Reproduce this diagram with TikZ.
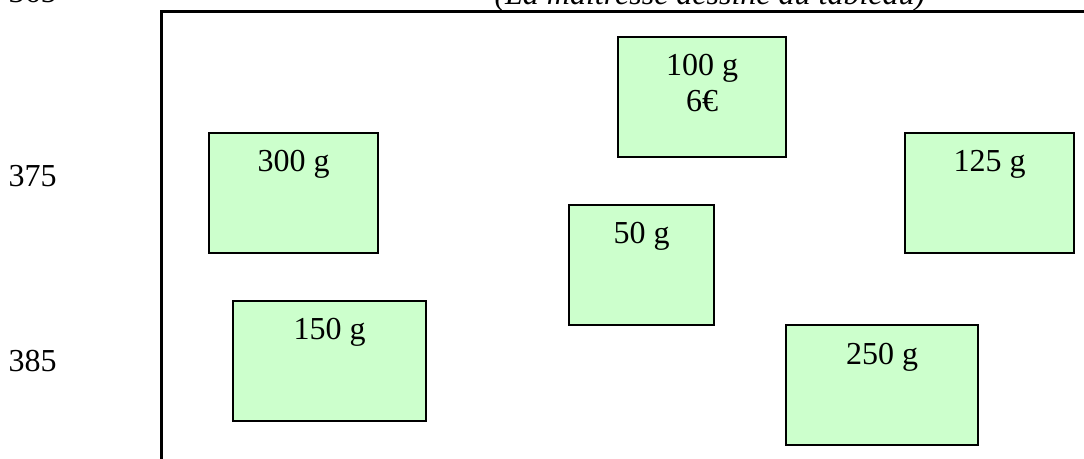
\documentclass[tikz,border=0pt]{standalone}
\usepackage{fontspec}
\setmainfont{Liberation Serif}
\definecolor{boxgreen}{HTML}{CCFFCC}
\begin{document}
\begin{tikzpicture}[x=0.375pt,y=-0.375pt,
  font=\fontsize{12}{13.5}\selectfont,
  wbox/.style={draw=black,line width=0.75pt,fill=boxgreen,rectangle,inner sep=0pt},
  wtext/.style={anchor=base,inner sep=0pt},
  margin/.style={anchor=base west,inner sep=0pt},
  board/.style={draw=black,line width=0.8pt}]
\useasboundingbox (0,0) rectangle (1084,459);
\clip (0,0) rectangle (1084,459);
\fill[white] (0,0) rectangle (1084,459);
% board frame
\coordinate (fbl) at (161.5,470);
\coordinate (ftl) at (161.5,11.5);
\coordinate (ftr) at (1100,11.5);
\draw[board] (fbl) -- (ftl) -- (ftr);
% margin line numbers and caption
\node[margin] (n365) at (8,3) {365};
\node[margin] (n375) at (8,187) {375};
\node[margin] (n385) at (8,371) {385};
\node[margin,font=\fontsize{12}{13.5}\selectfont\itshape] (cap) at (494,5) {(La maîtresse dessine au tableau)};
% boxes
\node[wbox,minimum width=168\pgflinewidth*0+63pt,minimum height=45pt] (b100) at (702,97) {};
\node[wbox,minimum width=63.4pt,minimum height=45pt] (b300) at (293.5,193) {};
\node[wbox,minimum width=63.4pt,minimum height=45pt] (b125) at (989.5,193) {};
\node[wbox,minimum width=54.4pt,minimum height=45pt] (b50) at (641.5,265) {};
\node[wbox,minimum width=72.4pt,minimum height=45pt] (b150) at (329.5,361) {};
\node[wbox,minimum width=72pt,minimum height=45pt] (b250) at (882,385) {};
% texts
\node[wtext] (t100) at ([yshift=-15pt]b100.north) {100 g};
\node[wtext] (t6) at ([yshift=-28.5pt]b100.north) {6€};
\node[wtext] (t300) at ([yshift=-15pt]b300.north) {300 g};
\node[wtext] (t125) at ([yshift=-15pt]b125.north) {125 g};
\node[wtext] (t50) at ([yshift=-15pt]b50.north) {50 g};
\node[wtext] (t150) at ([yshift=-15pt]b150.north) {150 g};
\node[wtext] (t250) at ([yshift=-15pt]b250.north) {250 g};
\end{tikzpicture}
\end{document}
